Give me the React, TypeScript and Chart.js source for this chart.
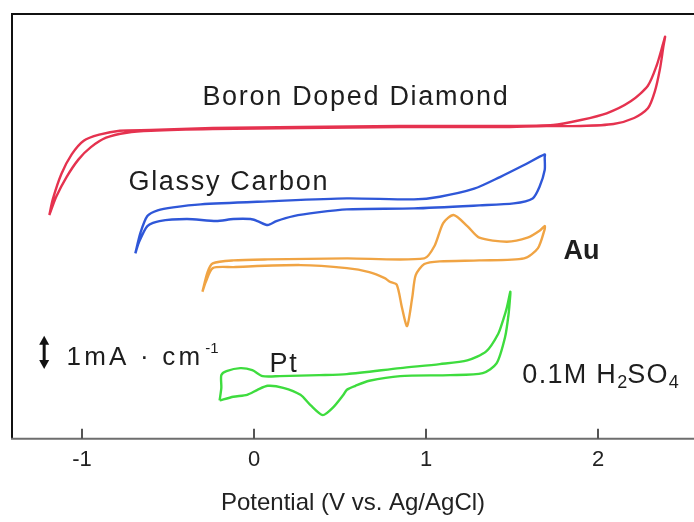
import React, { useEffect, useRef } from 'react';
import { Chart, registerables } from 'chart.js';

Chart.register(...registerables);

// ---- Data (potential in V vs Ag/AgCl, current in mA·cm⁻¹, curves offset vertically) ----
const TICK_VALUES = [-1, 0, 1, 2];

const BDD_FWD_V = [-1.19, -1.15, -1.09, -1.02, -0.95, -0.86, -0.74, -0.6, -0.24, 0.27, 0.85, 1.43, 1.7, 1.9, 2.09, 2.21, 2.29, 2.33, 2.36, 2.38, 2.39];
const BDD_FWD_I = [6.71, 7.26, 7.85, 8.38, 8.74, 9.03, 9.18, 9.24, 9.29, 9.32, 9.35, 9.35, 9.38, 9.38, 9.44, 9.62, 9.91, 10.41, 11.09, 11.76, 12.06];
const BDD_REV_V = [2.38, 2.34, 2.29, 2.19, 2.05, 1.9, 1.74, 1.43, 0.85, 0.27, -0.24, -0.6, -0.78, -0.9, -0.99, -1.06, -1.12, -1.17, -1.19];
const BDD_REV_I = [11.88, 11.18, 10.59, 10.12, 9.76, 9.56, 9.41, 9.38, 9.38, 9.35, 9.32, 9.26, 9.24, 9.12, 8.94, 8.53, 7.94, 7.18, 6.71];

const GC_FWD_V = [-0.69, -0.66, -0.62, -0.56, -0.47, -0.31, 0.08, 0.54, 0.93, 1.08, 1.28, 1.43, 1.57, 1.69];
const GC_FWD_I = [5.56, 6.18, 6.68, 6.85, 6.94, 7.03, 7.12, 7.21, 7.18, 7.26, 7.5, 7.85, 8.21, 8.53];
const GC_REV_V = [1.69, 1.69, 1.66, 1.62, 1.51, 1.31, 0.93, 0.54, 0.37, 0.23, 0.13, 0.08, 0.02, -0.02, -0.12, -0.22, -0.39, -0.55, -0.62, -0.67, -0.69];
const GC_REV_I = [8.44, 8.06, 7.56, 7.21, 7.06, 7.0, 6.91, 6.88, 6.79, 6.68, 6.53, 6.41, 6.53, 6.59, 6.59, 6.53, 6.59, 6.53, 6.38, 5.88, 5.56];

const AU_FWD_V = [-0.3, -0.27, -0.24, -0.12, 0.08, 0.54, 0.99, 1.05, 1.1, 1.16, 1.24, 1.31, 1.47, 1.59, 1.66, 1.69];
const AU_FWD_I = [4.41, 5.0, 5.26, 5.35, 5.38, 5.41, 5.41, 5.79, 6.47, 6.71, 6.38, 6.03, 5.91, 6.03, 6.24, 6.38];
const AU_REV_V = [1.69, 1.65, 1.57, 1.31, 1.08, 0.99, 0.94, 0.92, 0.89, 0.86, 0.83, 0.79, 0.76, 0.67, 0.54, 0.27, -0.12, -0.24, -0.28, -0.3];
const AU_REV_I = [6.29, 5.71, 5.41, 5.35, 5.32, 5.24, 4.91, 4.24, 3.38, 3.94, 4.62, 4.71, 4.82, 5.0, 5.12, 5.21, 5.15, 5.12, 4.71, 4.41];

const PT_FWD_V = [-0.2, -0.19, -0.19, -0.16, -0.08, -0.01, 0.05, 0.15, 0.38, 0.54, 0.85, 1.08, 1.24, 1.35, 1.42, 1.45, 1.47, 1.49];
const PT_FWD_I = [1.15, 1.53, 1.91, 2.03, 2.12, 2.06, 1.88, 1.88, 1.91, 1.94, 2.12, 2.24, 2.35, 2.62, 3.15, 3.59, 3.94, 4.41];
const PT_REV_V = [1.49, 1.48, 1.46, 1.41, 1.33, 1.14, 0.85, 0.67, 0.59, 0.54, 0.52, 0.46, 0.4, 0.33, 0.27, 0.17, 0.08, 0.02, -0.04, -0.12, -0.2];
const PT_REV_I = [4.32, 3.74, 3.06, 2.26, 1.97, 1.91, 1.88, 1.74, 1.59, 1.47, 1.32, 0.94, 0.71, 1.0, 1.32, 1.53, 1.59, 1.47, 1.32, 1.26, 1.15];

const SCALE_BAR_MA = 1;

const loop = (fv: number[], fi: number[], rv: number[], ri: number[]) => [
  ...fv.map((x, k) => ({ x, y: fi[k] })),
  ...rv.map((x, k) => ({ x, y: ri[k] })),
];

const FONT = '"Liberation Sans", Arial, sans-serif';

const decorPlugin = {
  id: 'decor',
  afterDraw(chart: any) {
    const { ctx, chartArea: a, scales } = chart;
    const xs = scales.x;
    const ys = scales.y;
    ctx.save();
    ctx.lineWidth = 2;
    ctx.strokeStyle = '#111';
    ctx.beginPath();
    ctx.moveTo(a.left, a.bottom);
    ctx.lineTo(a.left, a.top);
    ctx.lineTo(a.right + 4, a.top);
    ctx.stroke();
    ctx.strokeStyle = '#6e6e6e';
    ctx.beginPath();
    ctx.moveTo(a.left - 1, a.bottom);
    ctx.lineTo(a.right + 4, a.bottom);
    ctx.stroke();
    ctx.lineWidth = 2;
    ctx.strokeStyle = '#555';
    TICK_VALUES.forEach((v) => {
      const px = Math.round(xs.getPixelForValue(v));
      ctx.beginPath();
      ctx.moveTo(px, a.bottom);
      ctx.lineTo(px, a.bottom - 10);
      ctx.stroke();
    });

    ctx.fillStyle = '#1e1e1e';
    ctx.textBaseline = 'middle';
    ctx.textAlign = 'left';
    const text = (s: string, vx: number, vy: number, font: string, spacing = '1.7px') => {
      ctx.font = font;
      (ctx as any).letterSpacing = spacing;
      const px = xs.getPixelForValue(vx);
      const py = ys.getPixelForValue(vy);
      ctx.fillText(s, px, py);
      return { px, py, w: ctx.measureText(s).width };
    };
    text('Boron Doped Diamond', -0.3, 10.24, `27px ${FONT}`);
    text('Glassy Carbon', -0.73, 7.68, `27px ${FONT}`);
    text('Au', 1.8, 5.63, `bold 27px ${FONT}`, '0px');
    text('Pt', 0.09, 2.22, `27px ${FONT}`);
    const u = text('1mA · cm', -1.09, 2.44, `26px ${FONT}`, '3.2px');
    ctx.font = `15px ${FONT}`;
    (ctx as any).letterSpacing = '0px';
    ctx.fillText('-1', u.px + u.w + 2, u.py - 9);

    let t = text('0.1M H', 1.56, 1.9, `27px ${FONT}`, '1.3px');
    let cx = t.px + t.w;
    ctx.font = `18px ${FONT}`;
    (ctx as any).letterSpacing = '0px';
    ctx.fillText('2', cx, t.py + 8);
    cx += ctx.measureText('2').width;
    ctx.font = `27px ${FONT}`;
    (ctx as any).letterSpacing = '1.3px';
    ctx.fillText('SO', cx, t.py);
    cx += ctx.measureText('SO').width;
    ctx.font = `18px ${FONT}`;
    (ctx as any).letterSpacing = '0px';
    ctx.fillText('4', cx, t.py + 8);

    const ax = xs.getPixelForValue(-1.22);
    const yTop = ys.getPixelForValue(2.09 + SCALE_BAR_MA);
    const yBot = ys.getPixelForValue(2.09);
    ctx.strokeStyle = '#111';
    ctx.fillStyle = '#111';
    ctx.lineWidth = 3;
    ctx.beginPath();
    ctx.moveTo(ax, yTop + 6);
    ctx.lineTo(ax, yBot - 6);
    ctx.stroke();
    ctx.beginPath();
    ctx.moveTo(ax, yTop);
    ctx.lineTo(ax - 5, yTop + 9);
    ctx.lineTo(ax + 5, yTop + 9);
    ctx.closePath();
    ctx.fill();
    ctx.beginPath();
    ctx.moveTo(ax, yBot);
    ctx.lineTo(ax - 5, yBot - 9);
    ctx.lineTo(ax + 5, yBot - 9);
    ctx.closePath();
    ctx.fill();
    ctx.restore();
  },
};

export default function App() {
  const ref = useRef<HTMLCanvasElement | null>(null);
  useEffect(() => {
    document.body.style.margin = '0';
    const canvas = ref.current;
    if (!canvas) return;
    const ds = (label: string, data: any[], color: string) => ({
      label,
      data,
      showLine: true,
      borderColor: color,
      backgroundColor: color,
      borderWidth: 2.4,
      pointRadius: 0,
      tension: 0.25,
      fill: false,
    });
    const chart = new Chart(canvas, {
      type: 'scatter',
      data: {
        datasets: [
          ds('Boron Doped Diamond', loop(BDD_FWD_V, BDD_FWD_I, BDD_REV_V, BDD_REV_I), '#e5324f'),
          ds('Glassy Carbon', loop(GC_FWD_V, GC_FWD_I, GC_REV_V, GC_REV_I), '#2f57d8'),
          ds('Au', loop(AU_FWD_V, AU_FWD_I, AU_REV_V, AU_REV_I), '#f0a444'),
          ds('Pt', loop(PT_FWD_V, PT_FWD_I, PT_REV_V, PT_REV_I), '#3edc3e'),
        ],
      },
      options: {
        animation: false,
        responsive: false,
        maintainAspectRatio: false,
        layout: { padding: { left: 12, top: 14, right: 0, bottom: 4 } },
        plugins: { legend: { display: false }, tooltip: { enabled: false } },
        scales: {
          x: {
            type: 'linear',
            min: -1.407,
            max: 2.558,
            afterBuildTicks: (s: any) => {
              s.ticks = TICK_VALUES.map((value) => ({ value }));
            },
            grid: { display: false, drawTicks: false },
            border: { display: false },
            ticks: {
              color: '#222',
              padding: 8,
              font: { family: FONT, size: 22 },
              callback: (v: any) => String(v),
            },
            title: {
              display: true,
              text: 'Potential (V vs. Ag/AgCl)',
              color: '#222',
              font: { family: FONT, size: 24 },
              padding: { top: 8, bottom: 0 },
            },
          },
          y: {
            type: 'linear',
            min: 0,
            max: 12.74,
            display: false,
          },
        },
      },
      plugins: [decorPlugin],
    });
    return () => chart.destroy();
  }, []);
  return <canvas ref={ref} width={694} height={522} style={{ display: 'block' }} />;
}
